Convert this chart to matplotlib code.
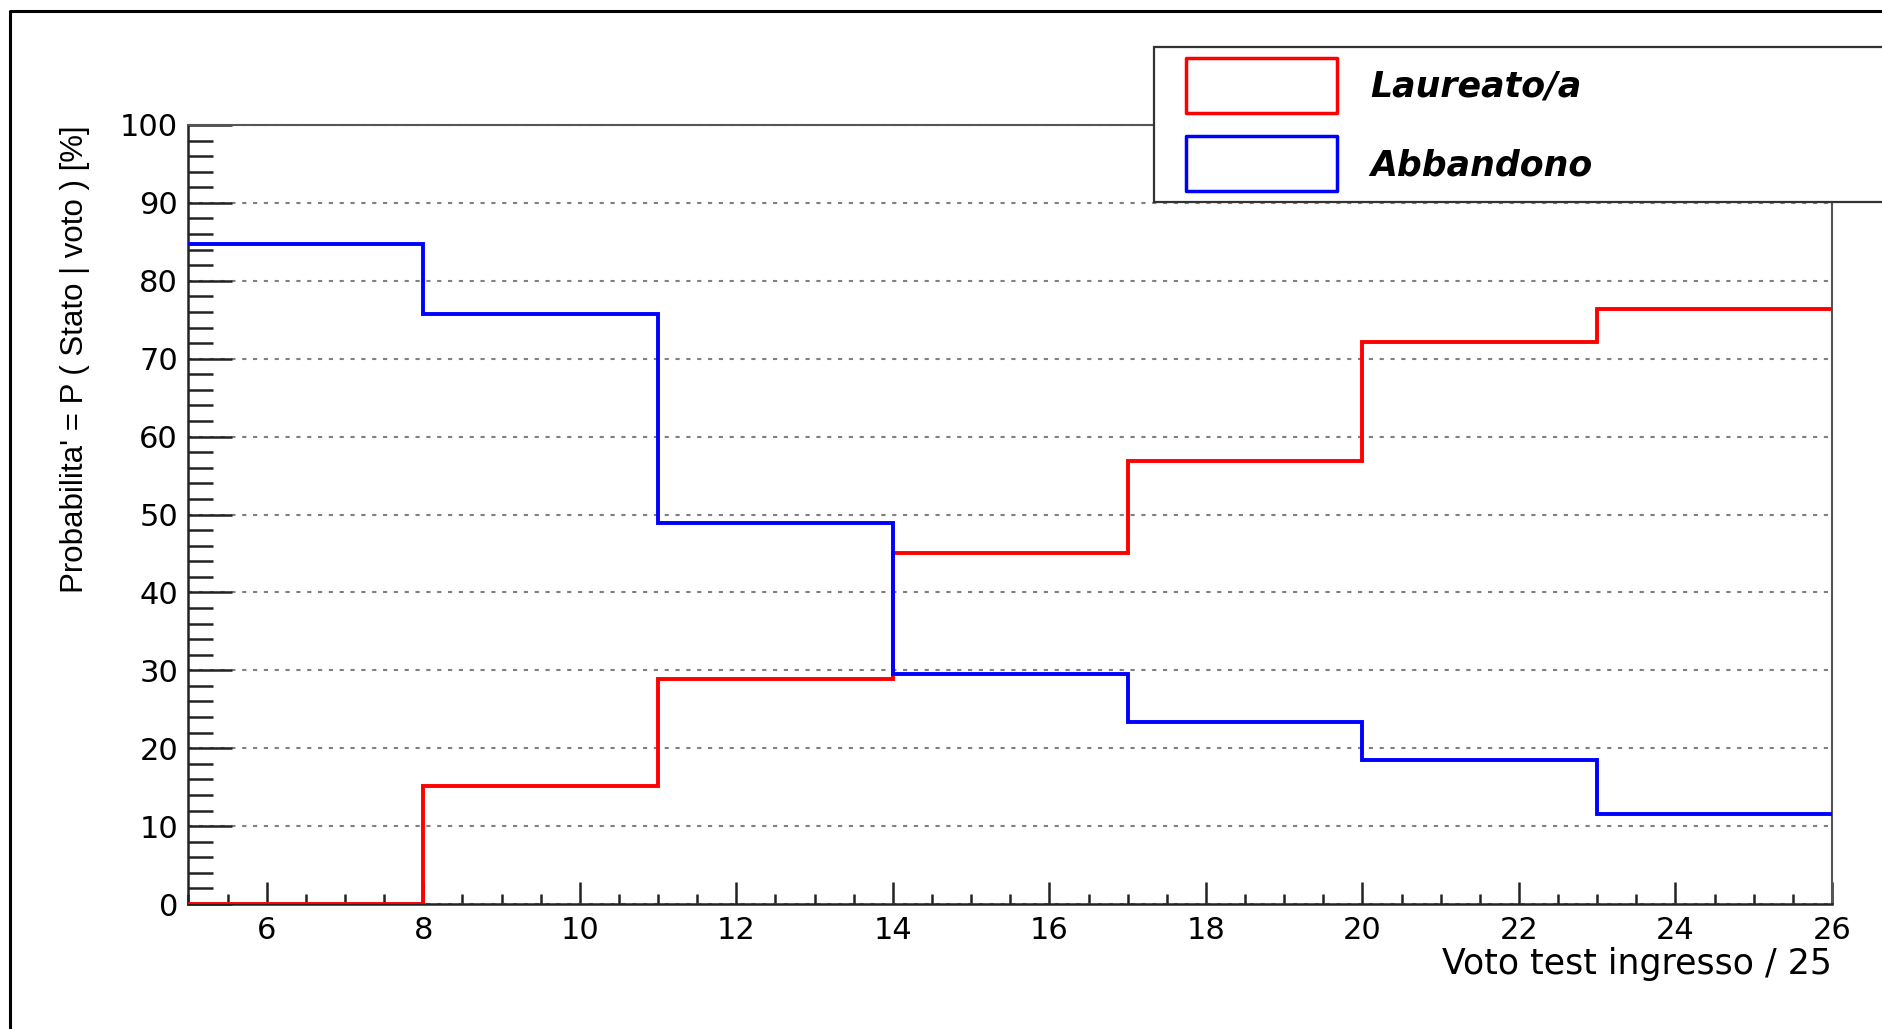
import matplotlib
matplotlib.use("Agg")
import matplotlib.pyplot as plt
from matplotlib import font_manager
from matplotlib.lines import Line2D
from matplotlib.patches import Rectangle
from matplotlib.ticker import MultipleLocator

# -- Data --
bin_edges = [5, 8, 11, 14, 17, 20, 23, 26]
laureato = [0.0, 15.1, 28.9, 45.1, 56.9, 72.1, 76.4]
abbandono = [84.7, 75.8, 48.9, 29.5, 23.4, 18.5, 11.6]
series_names = ["Laureato/a", "Abbandono"]
series_colors = ["#ff0000", "#0000ff"]

xlabel = "Voto test ingresso / 25"
ylabel = "Probabilita' = P ( Stato | voto ) [%]"

# -- Figure geometry (pixels of the 1883x1029 canvas) --
W, H = 1883, 1029
DPI = 100


def fx(px):
    return px / W


def fy(py):
    return 1 - py / H


plt.rcParams["font.family"] = "DejaVu Sans"

installed = {f.name for f in font_manager.fontManager.ttflist}
if "Liberation Sans Narrow" in installed:
    ylab_font, ylab_size = "Liberation Sans Narrow", 27
else:
    ylab_font, ylab_size = "Liberation Sans", 22.5

fig = plt.figure(figsize=(W / DPI, H / DPI), dpi=DPI)
ax_l, ax_r, ax_t, ax_b = 188.5, 1832, 125, 904
ax = fig.add_axes([fx(ax_l), fy(ax_b), fx(ax_r - ax_l), (ax_b - ax_t) / H])

# histograms, red first so the blue edge sits on top at x=14
for vals, col in zip([laureato, abbandono], series_colors):
    ax.stairs(vals, bin_edges, baseline=None, color=col, lw=2.8, zorder=3)

ax.set_xlim(5, 26)
ax.set_ylim(0, 100)

ax.xaxis.set_major_locator(MultipleLocator(2))
ax.xaxis.set_minor_locator(MultipleLocator(0.5))
ax.yaxis.set_major_locator(MultipleLocator(10))
ax.yaxis.set_minor_locator(MultipleLocator(2))

ax.tick_params(axis="both", which="both", direction="in", color="#222222",
               width=1.8, labelsize=22)
ax.tick_params(axis="x", which="major", length=15.8, pad=8.5)
ax.tick_params(axis="x", which="minor", length=7.2)
ax.tick_params(axis="y", which="major", length=31.7, pad=7.5)
ax.tick_params(axis="y", which="minor", length=18)

ax.yaxis.grid(True, color="#808080", lw=1.5, linestyle=(0, (2.0, 3.2)))
ax.set_axisbelow(True)

for side in ["left", "bottom"]:
    ax.spines[side].set_color("#222222")
    ax.spines[side].set_linewidth(1.8)
for side in ["top", "right"]:
    ax.spines[side].set_color("#555555")
    ax.spines[side].set_linewidth(1.5)

ax.set_xlabel(xlabel, fontsize=25, loc="right")
ax.xaxis.label.set_va("baseline")
ax.xaxis.set_label_coords(1.0, -(974 - ax_b) / (ax_b - ax_t))

ax.set_ylabel(ylabel, family=[ylab_font, "DejaVu Sans"], fontsize=ylab_size,
              loc="top")
ax.yaxis.label.set_va("baseline")
ax.yaxis.set_label_coords(-(ax_l - 83) / (ax_r - ax_l), 1.0)

# -- Legend box (ROOT style, runs off the right edge) --
fig.add_artist(Rectangle((fx(1154), fy(202)), fx(1950 - 1154), (202 - 47) / H,
                         transform=fig.transFigure, facecolor="white",
                         edgecolor="#333333", lw=1.6, zorder=5))
entry_boxes = [(58, 113), (136, 191)]
entry_base = [96.7, 175.7]
for name, col, (top, bot), base in zip(series_names, series_colors,
                                       entry_boxes, entry_base):
    fig.add_artist(Rectangle((fx(1186), fy(bot)), fx(1337 - 1186), (bot - top) / H,
                             transform=fig.transFigure, facecolor="none",
                             edgecolor=col, lw=2.5, joinstyle="round", zorder=6))
    fig.text(fx(1370), fy(base), name, fontsize=25, fontweight="bold",
             fontstyle="italic", va="baseline", ha="left", zorder=6)

# outer canvas frame (left and top edges visible)
fig.add_artist(Line2D([fx(10), fx(10), fx(1900)], [fy(1040), fy(11), fy(11)],
                      transform=fig.transFigure, color="black", lw=2.2))

fig.savefig("out.png", dpi=DPI)
